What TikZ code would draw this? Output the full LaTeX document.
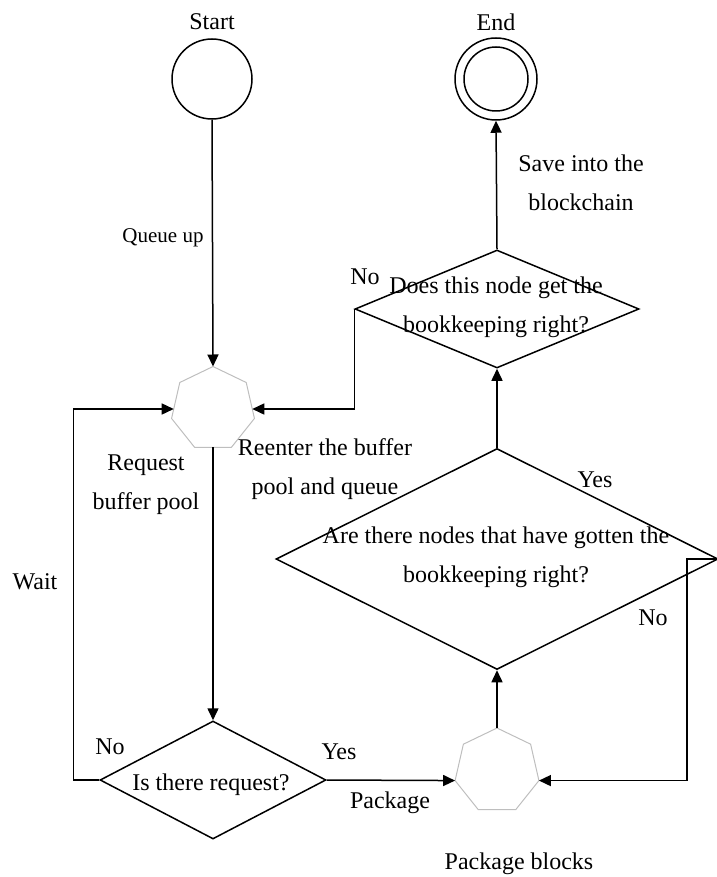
\documentclass[tikz,border=0pt]{standalone}
\usepackage{fontspec}
\setmainfont{Liberation Serif}
\usetikzlibrary{shapes.geometric,arrows.meta}
\definecolor{polygray}{RGB}{190,190,190}
\newcommand{\flowfont}{\fontsize{24}{39}\selectfont}

\begin{document}
\begin{tikzpicture}[x=1pt,y=-1pt,line width=1.5pt,font=\flowfont,
    flow/.style={-{Triangle[length=12pt,width=11pt]}},
    hepta/.style={regular polygon,regular polygon sides=7,draw=polygray,line width=1pt,inner sep=0pt,outer sep=0pt,minimum size=#1},
    decision/.style={diamond,draw,inner sep=0pt},
    txt/.style={inner sep=0pt,align=center}]
     \useasboundingbox (0,0) rectangle (716,877);
     % states
     \node[circle,draw,minimum size=80pt,inner sep=0pt] (start) at (212,79) {};
     \node[circle,draw,minimum size=82pt,inner sep=0pt] (end) at (496,79) {};
     \draw (end.center) circle (32pt);
     \node[hepta=85pt] (pool) at (213,409) {};
     \node[hepta=86pt] (pack) at (497,771) {};
     % decisions
     \node[decision,minimum width=226pt,minimum height=118pt] (req) at (213,780) {};
     \node[decision,minimum width=442pt,minimum height=221pt] (anyok) at (497,559) {};
     \node[decision,minimum width=284pt,minimum height=118pt] (thisok) at (497,309) {};
     % texts
     \node[txt] (startlbl) at (212,22) {Start};
     \node[txt] (endlbl) at (496,22) {End};
     \node[txt,font=\fontsize{21}{30}\selectfont] (queue) at (163,238) {Queue up};
     \node[txt] (poollbl) at (146,485) {Request\\buffer pool};
     \node[txt] (reenter) at (325,469) {Reenter the buffer\\pool and queue};
     \node[txt] (save) at (581,183) {Save into the\\blockchain};
     \node[txt] (reqq) at (211,785) {Is there request?};
     \node[txt] (anyq) at (496,557) {Are there nodes that have gotten the\\bookkeeping right?};
     \node[txt] (thisq) at (496,307) {Does this node get the\\bookkeeping right?};
     \node[txt] (nothis) at (365,277) {No};
     \node[txt] (yesany) at (595,480) {Yes};
     \node[txt] (noany) at (653,618) {No};
     \node[txt] (wait) at (35,582) {Wait};
     \node[txt] (noreq) at (110,747) {No};
     \node[txt] (yesreq) at (339,752) {Yes};
     \node[txt] (pkg) at (390,803) {Package};
     \node[txt] (packlbl) at (519,864) {Package blocks};
     % connectors
     \draw[flow] (start.south) -- (pool.north);
     \draw[flow] (pool.south) -- (req.north);
     \draw[flow] (req.west) -- ++(-26,0) |- (pool.west);
     \draw[flow] (req.east) -- (pack.corner 3);
     \draw[flow] (pack.north) -- (anyok.south);
     \draw[flow] (anyok.east) -- ++(-32,0) |- (pack.corner 6);
     \draw[flow] (anyok.north) -- (thisok.south);
     \draw[flow] (thisok.west) |- (pool.east);
     \draw[flow] (thisok.north) -- (end.south);
    \end{tikzpicture}
\end{document}
